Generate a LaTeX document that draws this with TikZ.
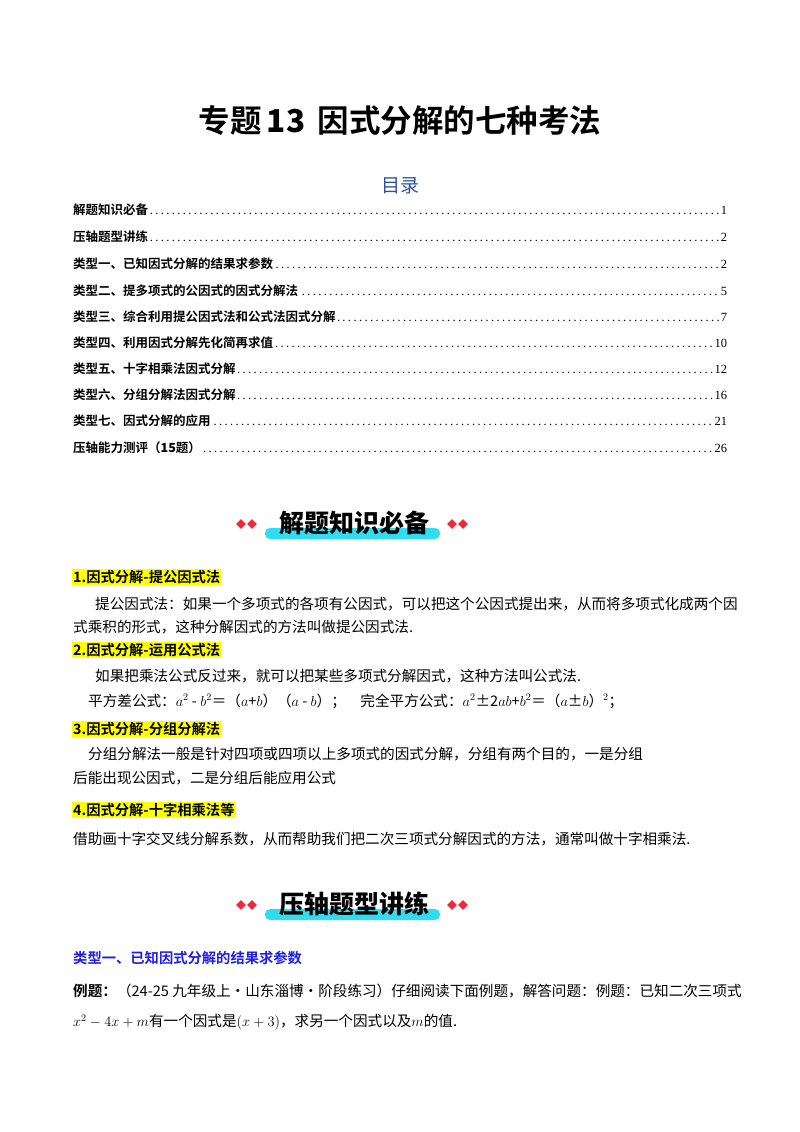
\documentclass[tikz,border=0pt]{standalone}
\usepackage{fontspec}
\usetikzlibrary{shapes.geometric}
\setmainfont{Liberation Serif}
\newfontfamily\cjk{Noto Sans CJK SC}
\newfontfamily\cjkb{Noto Sans CJK SC Bold}
\newfontfamily\cjkh{Noto Sans CJK SC Black}
\definecolor{tocblue}{RGB}{47,84,150}
\definecolor{hyel}{RGB}{255,255,0}
\definecolor{tblue}{RGB}{30,30,230}
\definecolor{bcyan}{RGB}{50,220,240}
\definecolor{dred}{RGB}{240,40,60}
\begin{document}
\begin{tikzpicture}[x=1pt,y=-1pt,
  toc/.style={anchor=west,inner sep=0,text width=654pt,font=\fontsize{12.5}{12}\selectfont},
  body/.style={anchor=west,inner sep=0,font=\cjk\fontsize{14.6}{15}\selectfont},
  head/.style={anchor=west,inner sep=1pt,fill=hyel,font=\cjkb\fontsize{14.3}{15}\selectfont},
  dia/.style={fill=dred,inner sep=0,minimum size=10pt,diamond,shape aspect=1}]
\useasboundingbox (0,0) rectangle (800,1132);
\node (title) at (400,121) {\cjkb\fontsize{31.5}{32}\selectfont 专题\,\textbf{13}\, 因式分解的七种考法};
\node[text=tocblue] (mulu) at (400,186) {\cjk\fontsize{19}{20}\selectfont 目录};
\newcommand\tocl[4]{\node[toc] (#1) at (73,#2) {{\cjkb #3}\dotfill#4};}
\tocl{t1}{210}{解题知识必备}{1}
\tocl{t2}{237}{压轴题型讲练}{2}
\tocl{t3}{264}{类型一、已知因式分解的结果求参数}{2}
\tocl{t4}{291}{类型二、提多项式的公因式的因式分解法}{5}
\tocl{t5}{317}{类型三、综合利用提公因式法和公式法因式分解}{7}
\tocl{t6}{343}{类型四、利用因式分解先化简再求值}{10}
\tocl{t7}{369}{类型五、十字相乘法因式分解}{12}
\tocl{t8}{395}{类型六、分组分解法因式分解}{16}
\tocl{t9}{421}{类型七、因式分解的应用}{21}
\tocl{t10}{448}{压轴能力测评（\textbf{15}题）}{26}
% banners
\newcommand\banner[3]{%
 \fill[bcyan,rounded corners=5pt] (265,#2+5) rectangle (440,#2+16);
 \node (#1) at (354,#2) {\cjkh\fontsize{25}{26}\selectfont #3};
 \node[dia] at (241,#2+1) {}; \node[dia] at (252,#2+1) {};
 \node[dia] at (452,#2+1) {}; \node[dia] at (463,#2+1) {};}
\banner{b1}{523}{解题知识必备}
\banner{b2}{904}{压轴题型讲练}
\node[head] (h1) at (72,577) {1.因式分解-提公因式法};
\node[body] (p1) at (95,604) {提公因式法：如果一个多项式的各项有公因式，可以把这个公因式提出来，从而将多项式化成两个因};
\node[body] (p2) at (73,627) {式乘积的形式，这种分解因式的方法叫做提公因式法.};
\node[head] (h2) at (72,650) {2.因式分解-运用公式法};
\node[body] (p3) at (95,676) {如果把乘法公式反过来，就可以把某些多项式分解因式，这种方法叫公式法.};
\node[body] (p4) at (88,701) {平方差公式：$a^2$ - $b^2$＝（$a$+$b$）（$a$ - $b$）；\quad 完全平方公式：$a^2$±2$ab$+$b^2$＝（$a$±$b$）$^2$；};
\node[head] (h3) at (72,729) {3.因式分解-分组分解法};
\node[body] (p5) at (88,754) {分组分解法一般是针对四项或四项以上多项式的因式分解，分组有两个目的，一是分组};
\node[body] (p6) at (73,778) {后能出现公因式，二是分组后能应用公式};
\node[head] (h4) at (72,810) {4.因式分解-十字相乘法等};
\node[body] (p7) at (73,839) {借助画十字交叉线分解系数，从而帮助我们把二次三项式分解因式的方法，通常叫做十字相乘法.};
\node[anchor=west,inner sep=0,text=tblue,font=\cjkb\fontsize{14.3}{15}\selectfont] (ty1) at (73,958) {类型一、已知因式分解的结果求参数};
\node[body] (ex1) at (73,991) {{\cjkb 例题：}（24-25 九年级上·山东淄博·阶段练习）仔细阅读下面例题，解答问题：例题：已知二次三项式};
\node[body] (ex2) at (73,1022) {$x^2-4x+m$有一个因式是$\left(x+3\right)$，求另一个因式以及$m$的值.};
\end{tikzpicture}
\end{document}
